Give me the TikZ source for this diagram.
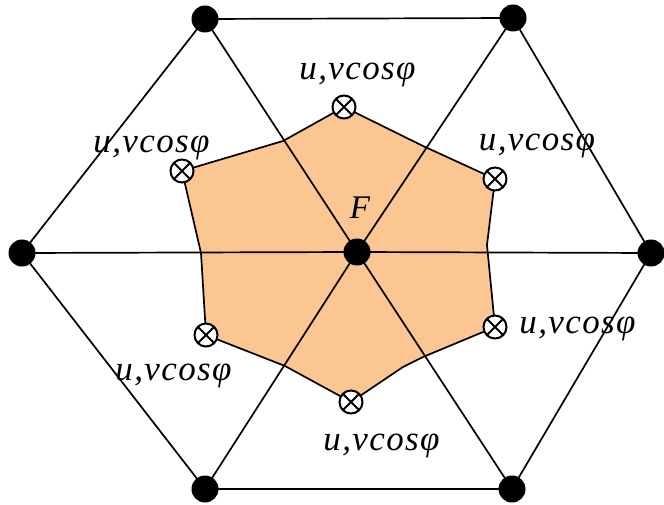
\documentclass[tikz,border=0pt]{standalone}
\usepackage{fontspec}
\setmainfont{Liberation Serif}
\newfontfamily\labfont[LetterSpace=4]{Liberation Serif}
\definecolor{peach}{RGB}{252,198,146}
\tikzset{
  dot/.style={circle,fill=black,draw=none,minimum size=27pt,inner sep=0pt},
  mk/.style={circle,draw=black,fill=white,line width=2pt,minimum size=23pt,inner sep=0pt,
    path picture={\draw[line width=1.8pt,shift={(path picture bounding box.center)}] (45:12pt) -- (225:12pt) (135:12pt) -- (315:12pt);}},
  ln/.style={line width=1.7pt,line cap=round},
  lab/.style={font=\labfont\fontsize{35}{35}\selectfont\itshape,inner sep=0pt,anchor=base},
}
\begin{document}
\begin{tikzpicture}[x=1pt,y=-1pt]
\useasboundingbox (0,0) rectangle (664,505);
% outer points
\coordinate (TL) at (205,19);
\coordinate (TR) at (513,18);
\coordinate (L) at (22,253);
\coordinate (R) at (651,253);
\coordinate (BL) at (205,489);
\coordinate (BR) at (512,489);
\coordinate (C) at (357,252);
% marker positions
\coordinate (m1) at (344,107);
\coordinate (m2) at (495,179);
\coordinate (m3) at (495,327);
\coordinate (m4) at (351,402);
\coordinate (m5) at (206,335);
\coordinate (m6) at (182,171);
% polygon bend points
\coordinate (p1) at (423,146);
\coordinate (p2) at (487,245);
\coordinate (p3) at (423,357);
\coordinate (p4) at (403,367);
\coordinate (p5) at (285,366);
\coordinate (p6) at (201,253);
\coordinate (p7) at (283,141);
\fill[peach] (m1) -- (p1) -- (m2) -- (p2) -- (m3) -- (p3) -- (p4) -- (m4) -- (p5) -- (m5) -- (p6) -- (m6) -- (p7) -- cycle;
% spokes
\draw[ln] (L) -- (C) -- (R);
\draw[ln] (TL) -- (C) -- (BR);
\draw[ln] (TR) -- (C) -- (BL);
% outer hexagon
\draw[ln] (TL) -- (TR) -- (R) -- (BR) -- (BL) -- (L) -- cycle;
% polygon border
\draw[ln,line join=round] (m1) -- (p1) -- (m2) -- (p2) -- (m3) -- (p3) -- (p4) -- (m4) -- (p5) -- (m5) -- (p6) -- (m6) -- (p7) -- cycle;
% dots
\node[dot] (nTL) at (TL) {};
\node[dot] (nTR) at (TR) {};
\node[dot] (nL) at (L) {};
\node[dot] (nR) at (R) {};
\node[dot] (nBL) at (BL) {};
\node[dot] (nBR) at (BR) {};
\node[dot] (F) at (C) {};
% markers
\node[mk] (k1) at (m1) {};
\node[mk] (k2) at (m2) {};
\node[mk] (k3) at (m3) {};
\node[mk] (k4) at (m4) {};
\node[mk] (k5) at (m5) {};
\node[mk] (k6) at (m6) {};
% labels
\node[lab] (t1) at (357.5,80) {u,vcosφ};
\node[lab] (t2) at (537,151) {u,vcosφ};
\node[lab] (t3) at (577.5,333) {u,vcosφ};
\node[lab] (t4) at (381.5,450) {u,vcosφ};
\node[lab] (t5) at (173.5,380) {u,vcosφ};
\node[lab] (t6) at (151.5,153) {u,vcosφ};
\node[lab,font=\fontsize{33}{33}\selectfont\itshape] (tF) at (360,219) {F};
\end{tikzpicture}
\end{document}
